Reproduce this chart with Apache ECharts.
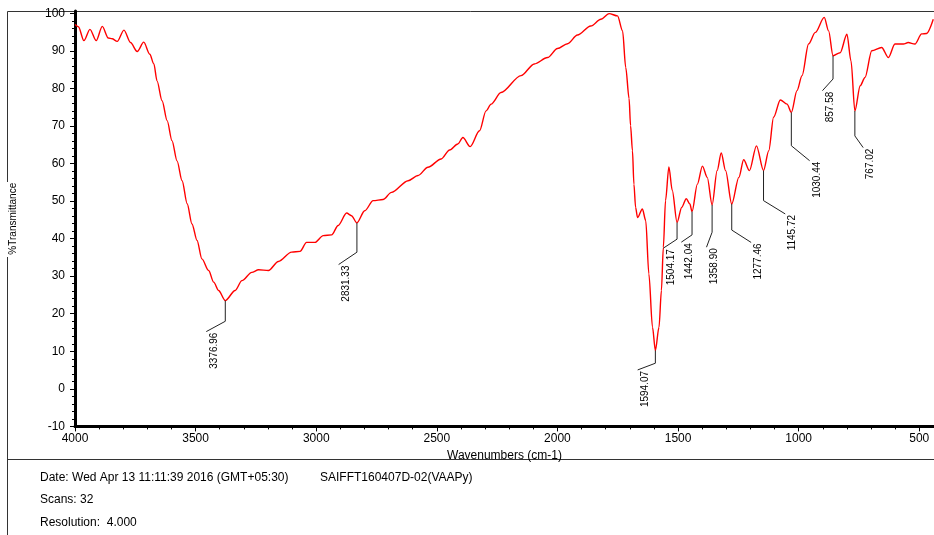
<!DOCTYPE html>
<html><head><meta charset="utf-8">
<script src="https://cdn.jsdelivr.net/npm/echarts@6/dist/echarts.min.js"></script>
<style>html,body{margin:0;padding:0;background:#fff}#c{width:934px;height:535px}</style>
</head><body><div id="c"></div>
<script>
// ---- data ----
const wavenumbers = [4000, 3986, 3963, 3938, 3912, 3887, 3862, 3846, 3825, 3797, 3770, 3742, 3715, 3690, 3673, 3660, 3639, 3618, 3598, 3577, 3556, 3535, 3515, 3494, 3474, 3446, 3425, 3405, 3376.96, 3336, 3308, 3267, 3239, 3198, 3157, 3102, 3067, 3040, 3005, 2971, 2936, 2909, 2874, 2854, 2831.33, 2799, 2764, 2723, 2688, 2619, 2578, 2537, 2482, 2447, 2413, 2392, 2362, 2323, 2296, 2275, 2234, 2151, 2096, 2041, 2000, 1958, 1917, 1862, 1820, 1786, 1751, 1730, 1717, 1703, 1697, 1689, 1683, 1676, 1668, 1648, 1634, 1621, 1606, 1594.07, 1579, 1569, 1561, 1552, 1538, 1524, 1504.17, 1485, 1466, 1451, 1442.04, 1420, 1399, 1379, 1358.90, 1338, 1321, 1303, 1277.46, 1248, 1228, 1204, 1175, 1145.72, 1124, 1104, 1076, 1048, 1030.44, 1007, 986, 959, 931, 894, 876, 857.58, 828, 800, 783, 767.02, 745, 725, 697, 656, 628, 601, 566, 546, 518, 490, 470, 442];
const transmittance = [97.0, 96.4, 92.7, 95.7, 92.7, 96.5, 93.4, 93.2, 92.5, 95.5, 92.2, 89.8, 92.3, 89.1, 86.5, 82.0, 76.7, 71.4, 66.1, 60.7, 55.4, 49.3, 43.9, 39.5, 34.6, 31.5, 28.4, 26.2, 23.5, 26.2, 28.8, 31.0, 31.7, 31.5, 33.9, 36.4, 36.6, 39.0, 39.0, 40.8, 41.0, 43.5, 46.8, 46.1, 44.2, 47.4, 50.1, 50.4, 52.3, 55.4, 56.8, 59.0, 61.2, 63.6, 65.2, 66.9, 64.5, 68.7, 74.0, 75.8, 78.9, 83.4, 86.5, 88.2, 90.6, 91.9, 94.2, 96.6, 98.4, 99.9, 99.3, 95.3, 85.6, 77.3, 70.1, 63.4, 54.5, 48.3, 45.6, 47.9, 44.8, 30.6, 16.4, 10.2, 16.4, 26.2, 37.7, 50.1, 59.1, 52.8, 44.3, 48.3, 50.6, 49.2, 47.2, 54.5, 59.3, 56.3, 49.0, 58.1, 62.8, 58.1, 49.2, 56.3, 61.0, 58.1, 64.7, 58.1, 63.4, 72.3, 76.9, 75.8, 73.6, 79.4, 83.4, 91.8, 94.9, 98.9, 95.3, 88.7, 89.5, 94.4, 87.3, 74.0, 80.7, 82.9, 90.0, 90.9, 88.2, 91.8, 91.8, 92.2, 91.8, 94.5, 94.6, 98.4];
const peakWavenumbers = [3376.96, 2831.33, 1594.07, 1504.17, 1442.04, 1358.90, 1277.46, 1145.72, 1030.44, 857.58, 767.02];
const xTickLabels = [4000, 3500, 3000, 2500, 2000, 1500, 1000, 500];
const xMinorTicks = [3900,3800,3700,3600,3400,3300,3200,3100,2900,2800,2700,2600,2400,2300,2200,2100,1900,1800,1700,1600,1400,1300,1200,1100,900,800,700,600];
const yTickLabels = [-10, 0, 10, 20, 30, 40, 50, 60, 70, 80, 90, 100];
const yMinorTicks = [-8,-6,-4,-2,2,4,6,8,12,14,16,18,22,24,26,28,32,34,36,38,42,44,46,48,52,54,56,58,62,64,66,68,72,74,76,78,82,84,86,88,92,94,96,98];
const footerLines = ['Date: Wed Apr 13 11:11:39 2016 (GMT+05:30)', 'Scans: 32', 'Resolution:  4.000'];
const sampleName = 'SAIFFT160407D-02(VAAPy)';

// ---- layout of the peak-label leader lines (pixels: drop, dx, dy) ----
const leaderLayout = [[20.7,-19,10.3],[29.4,-18.3,12.3],[12.7,-17.7,6.7],[16.7,-13.7,9],[23.3,-10.7,7.3],[27.4,-5.6,15],[26,19.4,12.4],[30,21.7,13.3],[33.3,18.3,15],[23.3,-10.6,11.7],[25,8.3,11.7]];

const FONT = '"Liberation Sans", Arial, sans-serif';
const spectrum = wavenumbers.map((w, i) => [w, transmittance[i]]);
const peaks = peakWavenumbers.map(w => [w, transmittance[wavenumbers.indexOf(w)], w.toFixed(2)]);
const plain = v => String(v);

const chart = echarts.init(document.getElementById('c'), null, {renderer: 'canvas'});
const frame = {stroke: '#333', lineWidth: 1};
chart.setOption({
  animation: false,
  backgroundColor: '#fff',
  grid: {left: 72.7, right: 0, top: 11, bottom: 108.6, containLabel: false},
  xAxis: [{
    type: 'value', min: 439, max: 4000, inverse: true, position: 'bottom',
    axisLine: {show: true, onZero: false, lineStyle: {color: '#000', width: 3}},
    axisTick: {show: true, customValues: xTickLabels, length: 5, lineStyle: {color: '#000'}},
    axisLabel: {customValues: xTickLabels, formatter: plain, margin: 6, fontSize: 12, color: '#000', fontFamily: FONT},
    splitLine: {show: false},
    name: 'Wavenumbers (cm-1)', nameLocation: 'middle', nameGap: 20,
    nameTextStyle: {fontSize: 12, color: '#000', fontFamily: FONT}
  }, {
    type: 'value', min: 439, max: 4000, inverse: true, position: 'bottom', offset: 0,
    axisLine: {show: false, onZero: false},
    axisTick: {show: true, customValues: xMinorTicks, length: 3, lineStyle: {color: '#000'}},
    axisLabel: {show: false}, splitLine: {show: false}
  }],
  yAxis: [{
    type: 'value', min: -10, max: 100.6, position: 'left',
    axisLine: {show: true, onZero: false, lineStyle: {color: '#000', width: 3}},
    axisTick: {show: true, customValues: yTickLabels, length: 5, lineStyle: {color: '#000'}},
    axisLabel: {customValues: yTickLabels, formatter: plain, margin: 10, fontSize: 12, color: '#000', fontFamily: FONT},
    splitLine: {show: false},
    name: '%Transmittance', nameLocation: 'middle', nameRotate: 90, nameGap: 57,
    nameTextStyle: {fontSize: 10, color: '#000', fontFamily: FONT, backgroundColor: '#fff', padding: [0, 2]}
  }, {
    type: 'value', min: -10, max: 100.6, position: 'left', offset: 0,
    axisLine: {show: false, onZero: false},
    axisTick: {show: true, customValues: yMinorTicks, length: 3, lineStyle: {color: '#000'}},
    axisLabel: {show: false}, splitLine: {show: false}
  }],
  series: [{
    type: 'line', data: spectrum, xAxisIndex: 0, yAxisIndex: 0,
    showSymbol: false, smooth: 0.3, smoothMonotone: 'x',
    lineStyle: {color: '#ff0000', width: 1.4}, z: 3
  }, {
    type: 'custom', coordinateSystem: 'cartesian2d', xAxisIndex: 0, yAxisIndex: 0,
    data: peaks, encode: {x: 0, y: 1}, z: 4,
    renderItem: function (params, api) {
      const p = api.coord([api.value(0), api.value(1)]);
      const L = leaderLayout[params.dataIndex];
      const p1 = [p[0], p[1] + L[0]];
      const p2 = [p1[0] + L[1], p1[1] + L[2]];
      return {type: 'group', children: [
        {type: 'polyline', shape: {points: [p, p1, p2]}, style: {stroke: '#222', lineWidth: 1, fill: null}},
        {type: 'text', x: p2[0] + 7.5, y: p2[1] + 1, rotation: Math.PI / 2,
         style: {text: peaks[params.dataIndex][2], align: 'right', verticalAlign: 'middle',
                 font: '10px ' + FONT, fill: '#000'}}
      ]};
    }
  }],
  graphic: [
    {type: 'line', silent: true, shape: {x1: 7.5, y1: 11.5, x2: 934, y2: 11.5}, style: frame},
    {type: 'line', silent: true, shape: {x1: 7.5, y1: 11.5, x2: 7.5, y2: 182}, style: frame},
    {type: 'line', silent: true, shape: {x1: 7.5, y1: 257, x2: 7.5, y2: 535}, style: frame},
    {type: 'line', silent: true, shape: {x1: 7.5, y1: 459.5, x2: 934, y2: 459.5}, style: frame},
    {type: 'text', silent: true, x: 40, y: 478, style: {text: footerLines[0], font: '12px ' + FONT, fill: '#000', verticalAlign: 'middle'}},
    {type: 'text', silent: true, x: 320, y: 478, style: {text: sampleName, font: '12px ' + FONT, fill: '#000', verticalAlign: 'middle'}},
    {type: 'text', silent: true, x: 40, y: 500, style: {text: footerLines[1], font: '12px ' + FONT, fill: '#000', verticalAlign: 'middle'}},
    {type: 'text', silent: true, x: 40, y: 523, style: {text: footerLines[2], font: '12px ' + FONT, fill: '#000', verticalAlign: 'middle'}}
  ]
});
</script></body></html>
